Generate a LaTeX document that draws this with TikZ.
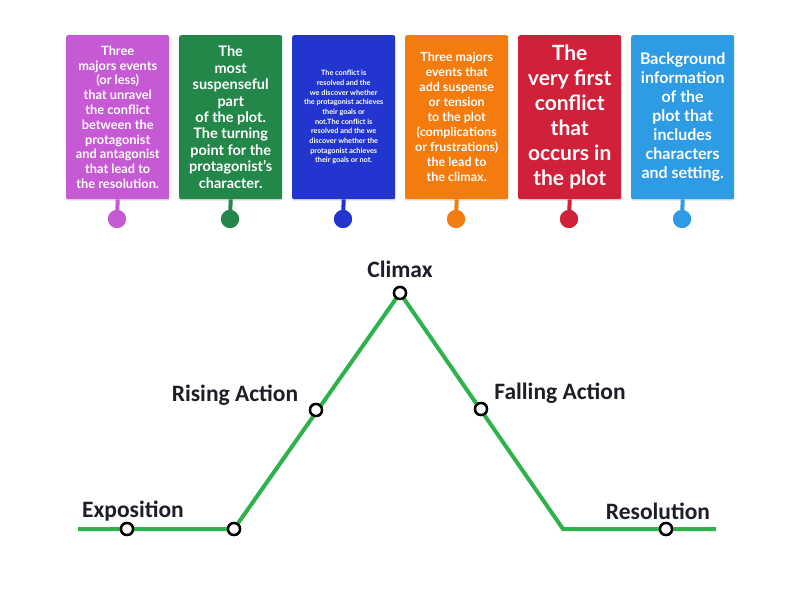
\documentclass[tikz,border=0pt]{standalone}
\usepackage{fontspec}
\setmainfont{Lato}
\newfontfamily\labfont{Carlito}
\usetikzlibrary{shadows}
\definecolor{cpurple}{HTML}{C65AD4}
\definecolor{cgreen}{HTML}{23874A}
\definecolor{cblue}{HTML}{2236CF}
\definecolor{corange}{HTML}{F47B0E}
\definecolor{cred}{HTML}{D0203A}
\definecolor{clblue}{HTML}{2E9BE5}
\definecolor{lgreen}{HTML}{2EB24B}
\definecolor{labc}{HTML}{1E1E28}
\begin{document}
\begin{tikzpicture}[x=1pt,y=-1pt]
\tikzset{
  card/.style={fill=#1, rounded corners=2pt, minimum width=103pt, minimum height=164pt,
    text=white, align=center, inner sep=0pt, anchor=north west,
    drop shadow={shadow xshift=0pt, shadow yshift=-1.5pt, opacity=0.25}},
  pin/.style={circle, fill=#1, minimum size=18pt, inner sep=0pt},
  stem/.style={draw=#1, line width=4pt},
  dot/.style={circle, draw=black, line width=2.4pt, fill=white, minimum size=12pt, inner sep=0pt},
  plotline/.style={draw=lgreen, line width=4pt},
  lab/.style={font=\labfont\bfseries\fontsize{23.5}{26}\selectfont, text=labc, inner sep=0pt}
}
\fill[white] (0,0) rectangle (800,600);
\useasboundingbox (0,0) rectangle (800,600);

% cards
\node[card=cpurple, font=\bfseries\fontsize{12.8}{14.8}\selectfont] (b1) at (66,35)
 {Three\\majors events\\(or less)\\that unravel\\the conflict\\between the\\protagonist\\and antagonist\\that lead to\\the resolution.};
\node[card=cgreen, font=\bfseries\fontsize{14.5}{16.4}\selectfont] (b2) at (179,35)
 {The\\most\\suspenseful\\part\\of the plot.\\The turning\\point for the\\protagonist's\\character.};
\node[card=cblue, font=\bfseries\fontsize{7.3}{9.7}\selectfont] (b3) at (292,35)
 {The conflict is\\resolved and the\\we discover whether\\the protagonist achieves\\their goals or\\not.The conflict is\\resolved and the we\\discover whether the\\protagonist achieves\\their goals or not.};
\node[card=corange, font=\bfseries\fontsize{12.5}{15}\selectfont] (b4) at (405,35)
 {Three majors\\events that\\add suspense\\or tension\\to the plot\\(complications\\or frustrations)\\the lead to\\the climax.};
\node[card=cred, font=\bfseries\fontsize{21}{25}\selectfont] (b5) at (518,35)
 {The\\very first\\conflict\\that\\occurs in\\the plot};
\node[card=clblue, font=\bfseries\fontsize{16}{19}\selectfont] (b6) at (631,35)
 {Background\\information\\of the\\plot that\\includes\\characters\\and setting.};

% pins
\foreach \i/\c/\x in {1/cpurple/117,2/cgreen/230,3/cblue/343,4/corange/456,5/cred/569,6/clblue/682}{
  \node[pin=\c] (p\i) at (\x,219) {};
  \draw[stem=\c] (b\i.south) -- (p\i.center);
  \node[pin=\c] at (p\i) {};
}

% plot line
\coordinate (lstart) at (78,529);
\coordinate (lturn) at (563,529);
\coordinate (lend) at (716,529);
\node[dot] (n1) at (127,529) {};
\node[dot] (n2) at (234,529) {};
\node[dot] (n3) at (316,410) {};
\node[dot] (n4) at (400,293) {};
\node[dot] (n5) at (481,409) {};
\node[dot] (n6) at (666,529) {};
\draw[plotline, line join=miter] (lstart) -- (n2.center) -- (n4.center) -- (lturn) -- (lend);
\foreach \i in {1,...,6}{ \node[dot] at (n\i) {}; }

% labels
\node[lab] (t1) at (133,511) {Exposition};
\node[lab] (t2) at (235,395) {Rising Action};
\node[lab] (t3) at (400,269) {Climax};
\node[lab] (t4) at (560,393) {Falling Action};
\node[lab] (t5) at (658,511) {Resolution};
\end{tikzpicture}
\end{document}
